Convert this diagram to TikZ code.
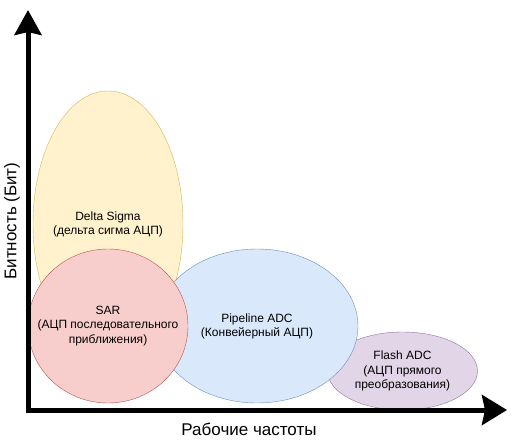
\documentclass[tikz,border=0pt]{standalone}
\usepackage{fontspec}
\setmainfont{Liberation Sans}
\usetikzlibrary{shapes.geometric,arrows.meta}
\definecolor{dsfill}{HTML}{FFF2CC}
\definecolor{dsline}{HTML}{D6B656}
\definecolor{sarfill}{HTML}{F8CECC}
\definecolor{sarline}{HTML}{B85450}
\definecolor{pipefill}{HTML}{DAE8FC}
\definecolor{pipeline}{HTML}{6C8EBF}
\definecolor{flashfill}{HTML}{E1D5E7}
\definecolor{flashline}{HTML}{9673A6}
\tikzset{
	adcnode/.style={ellipse, inner sep=0pt},
	adctext/.style={align=center, inner sep=0pt, font=\fontsize{12}{14.2}\selectfont},
	axisline/.style={line width=5pt, line join=miter, {Stealth[length=25pt, width=27pt, inset=3pt]}-{Stealth[length=25pt, width=30pt, inset=3pt]}},
	axislabel/.style={font=\fontsize{17}{19}\selectfont}
}
\begin{document}
\begin{tikzpicture}[x=1pt, y=-1pt]
	\useasboundingbox (0,0) rectangle (519,441);
	
	\node[adcnode, draw=dsline, fill=dsfill, minimum width=150pt, minimum height=266pt] at (108,224) (DS) {};
	\node[adctext] at (DS) (DSt) {Delta Sigma\\(дельта сигма АЦП)};
	\node[adcnode, draw=flashline, fill=flashfill, minimum width=150pt, minimum height=78pt] at (402.5,371) (Flash) {};
	\node[adctext] at (Flash) (Flasht) {Flash ADC\\(АЦП прямого\\преобразования)};
	\node[adcnode, draw=pipeline, fill=pipefill, minimum width=202pt, minimum height=154pt] at (257,326) (Pipe) {};
	\node[adctext] at (Pipe) (Pipet) {Pipeline ADC\\(Конвейерный АЦП)};
	\node[adcnode, draw=sarline, fill=sarfill, minimum width=160pt, minimum height=154pt] at (108,326) (SAR) {};
	\node[adctext] at (SAR) (SARt) {SAR\\(АЦП последовательного\\приближения)};
	
	\coordinate (Ytop) at (28,10);
	\coordinate (O) at (28,410);
	\coordinate (Xend) at (507,410);
	\draw[axisline] (Ytop) -- (O) -- (Xend);
	
	\node[axislabel, rotate=90] at (12,221) (Ylab) {Битность (Бит)};
	\node[axislabel] at (249,429) (Xlab) {Рабочие частоты};
\end{tikzpicture}
\end{document}
